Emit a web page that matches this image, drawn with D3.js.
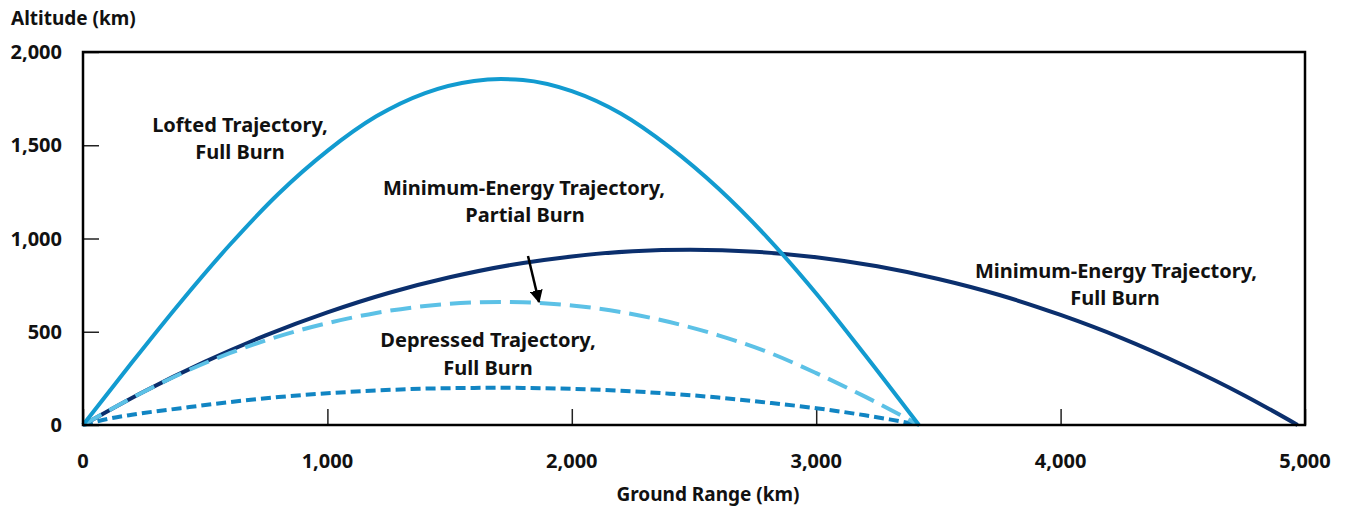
<!DOCTYPE html>
<html>
<head>
<meta charset="utf-8">
<script src="https://cdn.jsdelivr.net/npm/d3@7"></script>
<style>
  body { margin: 0; background: #fff; }
  svg text { font-family: "Noto Sans", "DejaVu Sans", sans-serif; font-weight: bold; fill: #111; }
</style>
</head>
<body>
<div id="chart"></div>
<script>
// Ground range (km) / altitude (km)
var loftedRange = [0, 200, 400, 600, 800, 1000, 1200, 1400, 1600, 1710, 1800, 2000, 2200, 2400, 2600, 2800, 3000, 3200, 3420];
var loftedAlt   = [0, 335, 660, 965, 1240, 1470, 1655, 1780, 1845, 1855, 1850, 1790, 1670, 1490, 1268, 1005, 705, 375, 0];

var minFullRange = [0, 250, 500, 750, 1000, 1250, 1500, 1750, 2000, 2250, 2485, 2750, 3000, 3250, 3500, 3750, 4000, 4250, 4500, 4750, 4970];
var minFullAlt   = [0, 180, 340, 482, 604, 708, 792, 858, 904, 932, 940, 929, 900, 851, 783, 697, 590, 466, 322, 160, 0];

var minPartRange = [0, 200, 400, 600, 800, 1000, 1200, 1400, 1600, 1710, 1800, 2000, 2200, 2400, 2600, 2800, 3000, 3200, 3420];
var minPartAlt   = [0, 145, 275, 385, 475, 546, 601, 638, 657, 660, 658, 641, 606, 552, 481, 392, 278, 152, 0];

var depRange = [0, 100, 200, 400, 600, 800, 1000, 1200, 1400, 1600, 1700, 1800, 2000, 2200, 2400, 2600, 2800, 3000, 3200, 3300, 3420];
var depAlt   = [0, 32, 55, 90, 123, 150, 170, 185, 195, 199, 200, 199, 194, 184, 168, 147, 120, 90, 52, 30, 0];

var xTicks = [0, 1000, 2000, 3000, 4000, 5000];
var yTicks = [0, 500, 1000, 1500, 2000];

var width = 1346;
var height = 509;
var plotL = 83, plotR = 1305, plotT = 52, plotB = 425;

var svg = d3.select("#chart").append("svg")
    .attr("width", width)
    .attr("height", height);

var x = d3.scaleLinear().domain([0, 5000]).range([plotL, plotR]);
var y = d3.scaleLinear().domain([0, 2000]).range([plotB, plotT]);

var fmt = d3.format(",");

// ticks point inward
svg.append("g")
    .attr("transform", "translate(0," + plotB + ")")
    .call(d3.axisTop(x).tickValues(xTicks).tickSize(16).tickFormat(""))
    .call(g => g.select(".domain").remove())
    .call(g => g.selectAll("line").attr("stroke", "#222").attr("stroke-width", 1.5));

svg.append("g")
    .attr("transform", "translate(" + plotL + ",0)")
    .call(d3.axisRight(y).tickValues(yTicks).tickSize(16).tickFormat(""))
    .call(g => g.select(".domain").remove())
    .call(g => g.selectAll("line").attr("stroke", "#222").attr("stroke-width", 1.5));

// tick labels
svg.append("g").selectAll("text")
    .data(xTicks)
    .enter()
    .append("text")
    .attr("x", d => x(d))
    .attr("y", 468)
    .attr("text-anchor", "middle")
    .style("font-size", "20px")
    .text(d => fmt(d));

svg.append("g").selectAll("text")
    .data(yTicks)
    .enter()
    .append("text")
    .attr("x", 62)
    .attr("y", d => y(d) + 7)
    .attr("text-anchor", "end")
    .style("font-size", "20px")
    .text(d => fmt(d));

svg.append("text")
    .attr("x", 11).attr("y", 25)
    .style("font-size", "19px")
    .text("Altitude (km)");

svg.append("text")
    .attr("x", 708).attr("y", 501)
    .attr("text-anchor", "middle")
    .style("font-size", "19px")
    .text("Ground Range (km)");

// curves
var line = d3.line()
    .x(d => x(d[0]))
    .y(d => y(d[1]))
    .curve(d3.curveMonotoneX);

function zip(a, b) { return a.map((v, i) => [v, b[i]]); }

var series = [
    {pts: zip(depRange, depAlt), color: "#1185c3", dash: "10,5"},
    {pts: zip(minFullRange, minFullAlt), color: "#0b2f6d", dash: null},
    {pts: zip(minPartRange, minPartAlt), color: "#5cc1e6", dash: "21,9"},
    {pts: zip(loftedRange, loftedAlt), color: "#129bd0", dash: null}
];

svg.append("g").selectAll("path")
    .data(series)
    .enter()
    .append("path")
    .attr("d", d => line(d.pts))
    .attr("fill", "none")
    .attr("stroke", d => d.color)
    .attr("stroke-width", 4)
    .attr("stroke-dasharray", d => d.dash);

// frame
svg.append("rect")
    .attr("x", plotL).attr("y", plotT)
    .attr("width", plotR - plotL).attr("height", plotB - plotT)
    .attr("fill", "none")
    .attr("stroke", "#000")
    .attr("stroke-width", 2.5);

// annotations
var labels = [
    {t: "Lofted Trajectory,", x: 240, y: 132},
    {t: "Full Burn", x: 240, y: 159},
    {t: "Minimum-Energy Trajectory,", x: 524, y: 195},
    {t: "Partial Burn", x: 525, y: 222},
    {t: "Depressed Trajectory,", x: 488, y: 347},
    {t: "Full Burn", x: 488, y: 375},
    {t: "Minimum-Energy Trajectory,", x: 1116, y: 278},
    {t: "Full Burn", x: 1115, y: 305}
];

svg.append("g").selectAll("text")
    .data(labels)
    .enter()
    .append("text")
    .attr("x", d => d.x)
    .attr("y", d => d.y)
    .attr("text-anchor", "middle")
    .style("font-size", "20px")
    .text(d => d.t);

svg.append("defs").append("marker")
    .attr("id", "arr")
    .attr("viewBox", "0 0 10 10")
    .attr("refX", 9).attr("refY", 5)
    .attr("markerWidth", 13).attr("markerHeight", 13)
    .attr("markerUnits", "userSpaceOnUse")
    .attr("orient", "auto")
    .append("path")
    .attr("d", "M0,0 L10,5 L0,10 z")
    .attr("fill", "#000");

svg.append("line")
    .attr("x1", 528).attr("y1", 256)
    .attr("x2", 539).attr("y2", 302)
    .attr("stroke", "#000")
    .attr("stroke-width", 2.5)
    .attr("marker-end", "url(#arr)");
</script>
</body>
</html>
